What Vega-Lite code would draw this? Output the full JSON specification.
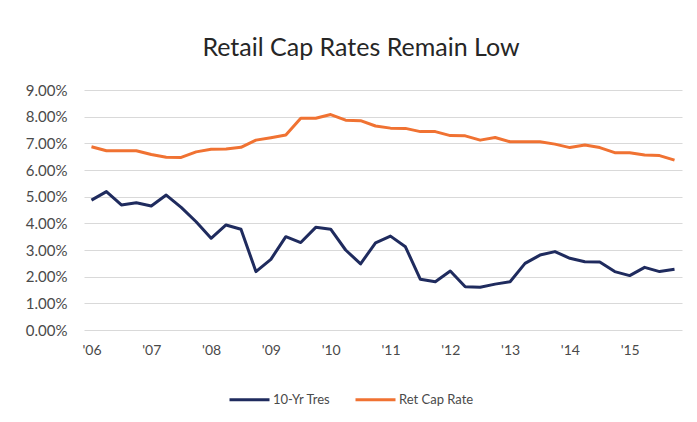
{
  "$schema": "https://vega.github.io/schema/vega-lite/v6.json",
  "autosize": "none",
  "width": 598,
  "height": 240,
  "padding": {"left": 84, "top": 90, "right": 15, "bottom": 92},
  "background": "white",
  "title": {
    "text": "Retail Cap Rates Remain Low",
    "font": "Lato",
    "fontSize": 25,
    "fontWeight": "normal",
    "color": "#262626",
    "anchor": "middle",
    "dx": -22,
    "offset": 22
  },
  "config": {
    "view": {"stroke": null},
    "axis": {"labelFont": "Lato", "labelColor": "#4a4a4a", "labelFontSize": 15, "titleFont": "Lato"},
    "legend": {"labelFont": "Lato"}
  },
  "data": {
    "values": [
      {"q": "2006Q1", "series": "10-Yr Tres", "rate": 4.87},
      {"q": "2006Q2", "series": "10-Yr Tres", "rate": 5.19},
      {"q": "2006Q3", "series": "10-Yr Tres", "rate": 4.69},
      {"q": "2006Q4", "series": "10-Yr Tres", "rate": 4.77},
      {"q": "2007Q1", "series": "10-Yr Tres", "rate": 4.65},
      {"q": "2007Q2", "series": "10-Yr Tres", "rate": 5.06},
      {"q": "2007Q3", "series": "10-Yr Tres", "rate": 4.6},
      {"q": "2007Q4", "series": "10-Yr Tres", "rate": 4.06},
      {"q": "2008Q1", "series": "10-Yr Tres", "rate": 3.44},
      {"q": "2008Q2", "series": "10-Yr Tres", "rate": 3.94},
      {"q": "2008Q3", "series": "10-Yr Tres", "rate": 3.78},
      {"q": "2008Q4", "series": "10-Yr Tres", "rate": 2.19},
      {"q": "2009Q1", "series": "10-Yr Tres", "rate": 2.65},
      {"q": "2009Q2", "series": "10-Yr Tres", "rate": 3.5},
      {"q": "2009Q3", "series": "10-Yr Tres", "rate": 3.28},
      {"q": "2009Q4", "series": "10-Yr Tres", "rate": 3.85},
      {"q": "2010Q1", "series": "10-Yr Tres", "rate": 3.78},
      {"q": "2010Q2", "series": "10-Yr Tres", "rate": 3.0},
      {"q": "2010Q3", "series": "10-Yr Tres", "rate": 2.48},
      {"q": "2010Q4", "series": "10-Yr Tres", "rate": 3.27},
      {"q": "2011Q1", "series": "10-Yr Tres", "rate": 3.52},
      {"q": "2011Q2", "series": "10-Yr Tres", "rate": 3.12},
      {"q": "2011Q3", "series": "10-Yr Tres", "rate": 1.9},
      {"q": "2011Q4", "series": "10-Yr Tres", "rate": 1.81},
      {"q": "2012Q1", "series": "10-Yr Tres", "rate": 2.21},
      {"q": "2012Q2", "series": "10-Yr Tres", "rate": 1.62},
      {"q": "2012Q3", "series": "10-Yr Tres", "rate": 1.6},
      {"q": "2012Q4", "series": "10-Yr Tres", "rate": 1.72},
      {"q": "2013Q1", "series": "10-Yr Tres", "rate": 1.81},
      {"q": "2013Q2", "series": "10-Yr Tres", "rate": 2.5},
      {"q": "2013Q3", "series": "10-Yr Tres", "rate": 2.81},
      {"q": "2013Q4", "series": "10-Yr Tres", "rate": 2.94},
      {"q": "2014Q1", "series": "10-Yr Tres", "rate": 2.69},
      {"q": "2014Q2", "series": "10-Yr Tres", "rate": 2.56},
      {"q": "2014Q3", "series": "10-Yr Tres", "rate": 2.55},
      {"q": "2014Q4", "series": "10-Yr Tres", "rate": 2.19},
      {"q": "2015Q1", "series": "10-Yr Tres", "rate": 2.04},
      {"q": "2015Q2", "series": "10-Yr Tres", "rate": 2.35},
      {"q": "2015Q3", "series": "10-Yr Tres", "rate": 2.19},
      {"q": "2015Q4", "series": "10-Yr Tres", "rate": 2.28},
      {"q": "2006Q1", "series": "Ret Cap Rate", "rate": 6.87},
      {"q": "2006Q2", "series": "Ret Cap Rate", "rate": 6.72},
      {"q": "2006Q3", "series": "Ret Cap Rate", "rate": 6.72},
      {"q": "2006Q4", "series": "Ret Cap Rate", "rate": 6.72},
      {"q": "2007Q1", "series": "Ret Cap Rate", "rate": 6.58},
      {"q": "2007Q2", "series": "Ret Cap Rate", "rate": 6.48},
      {"q": "2007Q3", "series": "Ret Cap Rate", "rate": 6.47},
      {"q": "2007Q4", "series": "Ret Cap Rate", "rate": 6.68},
      {"q": "2008Q1", "series": "Ret Cap Rate", "rate": 6.78},
      {"q": "2008Q2", "series": "Ret Cap Rate", "rate": 6.79},
      {"q": "2008Q3", "series": "Ret Cap Rate", "rate": 6.85},
      {"q": "2008Q4", "series": "Ret Cap Rate", "rate": 7.12},
      {"q": "2009Q1", "series": "Ret Cap Rate", "rate": 7.21},
      {"q": "2009Q2", "series": "Ret Cap Rate", "rate": 7.31},
      {"q": "2009Q3", "series": "Ret Cap Rate", "rate": 7.94},
      {"q": "2009Q4", "series": "Ret Cap Rate", "rate": 7.94},
      {"q": "2010Q1", "series": "Ret Cap Rate", "rate": 8.08},
      {"q": "2010Q2", "series": "Ret Cap Rate", "rate": 7.87},
      {"q": "2010Q3", "series": "Ret Cap Rate", "rate": 7.85},
      {"q": "2010Q4", "series": "Ret Cap Rate", "rate": 7.65},
      {"q": "2011Q1", "series": "Ret Cap Rate", "rate": 7.57},
      {"q": "2011Q2", "series": "Ret Cap Rate", "rate": 7.56},
      {"q": "2011Q3", "series": "Ret Cap Rate", "rate": 7.44},
      {"q": "2011Q4", "series": "Ret Cap Rate", "rate": 7.44},
      {"q": "2012Q1", "series": "Ret Cap Rate", "rate": 7.29},
      {"q": "2012Q2", "series": "Ret Cap Rate", "rate": 7.28},
      {"q": "2012Q3", "series": "Ret Cap Rate", "rate": 7.12},
      {"q": "2012Q4", "series": "Ret Cap Rate", "rate": 7.22},
      {"q": "2013Q1", "series": "Ret Cap Rate", "rate": 7.06},
      {"q": "2013Q2", "series": "Ret Cap Rate", "rate": 7.06},
      {"q": "2013Q3", "series": "Ret Cap Rate", "rate": 7.06},
      {"q": "2013Q4", "series": "Ret Cap Rate", "rate": 6.97},
      {"q": "2014Q1", "series": "Ret Cap Rate", "rate": 6.84},
      {"q": "2014Q2", "series": "Ret Cap Rate", "rate": 6.94},
      {"q": "2014Q3", "series": "Ret Cap Rate", "rate": 6.84},
      {"q": "2014Q4", "series": "Ret Cap Rate", "rate": 6.65},
      {"q": "2015Q1", "series": "Ret Cap Rate", "rate": 6.65},
      {"q": "2015Q2", "series": "Ret Cap Rate", "rate": 6.56},
      {"q": "2015Q3", "series": "Ret Cap Rate", "rate": 6.54},
      {"q": "2015Q4", "series": "Ret Cap Rate", "rate": 6.37}
    ]
  },
  "mark": {"type": "line", "strokeWidth": 3, "strokeJoin": "round"},
  "encoding": {
    "x": {
      "field": "q",
      "type": "ordinal",
      "sort": null,
      "scale": {"type": "point", "padding": 0.5},
      "axis": {
        "title": null,
        "values": ["2006Q1", "2007Q1", "2008Q1", "2009Q1", "2010Q1", "2011Q1", "2012Q1", "2013Q1", "2014Q1", "2015Q1"],
        "labelExpr": "\"'\" + substring(datum.value, 2, 4)",
        "labelAngle": 0,
        "labelFontSize": 14,
        "ticks": false,
        "domain": false,
        "grid": false,
        "labelPadding": 13
      }
    },
    "y": {
      "field": "rate",
      "type": "quantitative",
      "scale": {"domain": [0, 9], "nice": false, "zero": true},
      "axis": {
        "title": null,
        "values": [0, 1, 2, 3, 4, 5, 6, 7, 8, 9],
        "labelExpr": "format(datum.value, '.2f') + '%'",
        "labelFontSize": 15,
        "ticks": false,
        "domain": false,
        "grid": true,
        "gridColor": "#d9d9d9",
        "gridWidth": 1,
        "labelPadding": 17
      }
    },
    "color": {
      "field": "series",
      "type": "nominal",
      "scale": {"domain": ["10-Yr Tres", "Ret Cap Rate"], "range": ["#1f2b5e", "#f07232"]},
      "legend": {
        "title": null,
        "orient": "none",
        "direction": "horizontal",
        "legendX": 144,
        "legendY": 288,
        "symbolType": "stroke",
        "symbolSize": 1600,
        "symbolStrokeWidth": 3,
        "labelFontSize": 13,
        "labelColor": "#4a4a4a",
        "labelOffset": 2,
        "columnPadding": 18
      }
    }
  }
}
